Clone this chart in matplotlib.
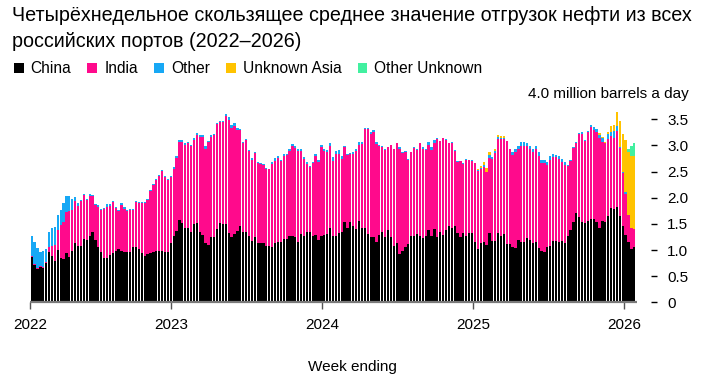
import matplotlib
matplotlib.use("Agg")
import matplotlib.pyplot as plt
from matplotlib.patches import Rectangle
import numpy as np
import pandas as pd

plt.rcParams['font.family'] = ['Liberation Sans', 'DejaVu Sans']

# ---------------- data (million barrels a day, 4-week average) ----------------
china = [
    .87, .71, .64, .68, .66, .75, .97, .89, .79, 1.00,
    .84, .82, .94, .86, .98, 1.13, 1.08, 1.08, 1.21, 1.19,
    1.27, 1.35, 1.20, 1.05, .97, .84, .84, .91, .95, .99,
    1.01, .98, .96, .96, .96, 1.06, 1.06, 1.02, .95, .89,
    .92, .94, .97, .99, .99, .99, .97, .97, 1.13, 1.26,
    1.36, 1.57, 1.51, 1.43, 1.43, 1.35, 1.50, 1.52, 1.34, 1.29,
    1.13, 1.10, 1.24, 1.24, 1.40, 1.51, 1.50, 1.50, 1.33, 1.24,
    1.31, 1.36, 1.46, 1.35, 1.35, 1.26, 1.18, 1.24, 1.14, 1.13,
    1.13, 1.08, 1.08, 1.05, 1.13, 1.16, 1.15, 1.21, 1.21, 1.26,
    1.27, 1.24, 1.16, 1.30, 1.26, 1.34, 1.34, 1.26, 1.29, 1.19,
    1.26, 1.29, 1.31, 1.43, 1.26, 1.27, 1.32, 1.34, 1.54, 1.43,
    1.53, 1.45, 1.40, 1.56, 1.43, 1.43, 1.30, 1.24, 1.24, 1.16,
    1.29, 1.34, 1.24, 1.38, 1.24, 1.08, 1.13, .92, .98, 1.05,
    1.12, 1.26, 1.26, 1.31, 1.27, 1.22, 1.27, 1.38, 1.27, 1.40,
    1.24, 1.35, 1.29, 1.38, 1.45, 1.43, 1.45, 1.32, 1.24, 1.32,
    1.26, 1.32, 1.32, 1.16, 1.02, 1.13, 1.15, 1.10, 1.33, 1.18,
    1.17, 1.32, 1.27, 1.31, 1.11, 1.11, 1.06, 1.03, 1.19, 1.15,
    1.15, 1.22, 1.19, 1.13, 1.16, 1.03, .98, .96, 1.05, 1.08,
    1.18, 1.18, 1.16, 1.18, 1.13, 1.27, 1.38, 1.54, 1.71, 1.64,
    1.54, 1.52, 1.56, 1.59, 1.59, 1.54, 1.43, 1.56, 1.53, 1.65,
    1.80, 1.78, 1.82, 1.65, 1.45, 1.29, 1.15, 1.02, 1.06,
]
india = [
    .02, .02, .02, .02, .02, .03, .09, .19, .31, .38,
    .64, .71, .79, .88, .79, .80, .76, .86, .84, .77,
    .77, .68, .66, .78, .79, .94, .99, .93, .97, .81,
    .74, .88, .82, .78, .80, .71, .85, .88, .94, 1.00,
    1.03, 1.18, 1.27, 1.34, 1.42, 1.52, 1.42, 1.37, 1.26, 1.29,
    1.40, 1.50, 1.56, 1.58, 1.62, 1.63, 1.60, 1.68, 1.83, 1.88,
    1.81, 1.97, 1.93, 1.96, 2.00, 1.94, 1.95, 2.07, 2.16, 2.10,
    2.07, 1.94, 1.83, 1.70, 1.75, 1.63, 1.55, 1.61, 1.53, 1.52,
    1.49, 1.47, 1.46, 1.60, 1.58, 1.60, 1.55, 1.59, 1.60, 1.63,
    1.71, 1.71, 1.73, 1.60, 1.48, 1.31, 1.24, 1.40, 1.51, 1.50,
    1.70, 1.61, 1.56, 1.56, 1.44, 1.56, 1.52, 1.40, 1.42, 1.39,
    1.30, 1.38, 1.49, 1.45, 1.59, 1.88, 2.02, 1.98, 2.01, 1.87,
    1.70, 1.63, 1.68, 1.58, 1.76, 1.85, 1.91, 2.02, 1.87, 1.82,
    1.61, 1.61, 1.69, 1.61, 1.77, 1.72, 1.65, 1.63, 1.65, 1.65,
    1.89, 1.73, 1.85, 1.73, 1.59, 1.62, 1.45, 1.37, 1.46, 1.33,
    1.47, 1.40, 1.39, 1.50, 1.50, 1.41, 1.43, 1.39, 1.43, 1.56,
    1.68, 1.80, 1.86, 1.82, 1.97, 1.82, 1.76, 1.85, 1.74, 1.83,
    1.84, 1.76, 1.74, 1.74, 1.77, 1.77, 1.69, 1.70, 1.58, 1.64,
    1.60, 1.59, 1.58, 1.51, 1.50, 1.34, 1.32, 1.41, 1.34, 1.58,
    1.68, 1.56, 1.69, 1.76, 1.70, 1.71, 1.71, 1.50, 1.51, 1.47,
    1.38, 1.37, 1.45, 1.30, 1.02, .79, .52, .41, .35,
]
other = [
    .37, .43, .37, .27, .31, .24, .28, .34, .34, .29,
    .29, .36, .31, .30, .21, .08, .05, .02, .02, .02,
    .03, .02, .02, .03, .03, .02, .05, .03, .02, .03,
    .02, .03, .04, .03, .03, .02, .02, .01, .02, .02,
    .03, .03, .02, .03, .03, .02, .03, .02, .03, .03,
    .03, .03, .03, .03, .02, .03, .04, .03, .03, .03,
    .04, .02, .03, .02, .02, .02, .02, .03, .06, .05,
    .05, .03, .02, .02, .02, .02, .02, .02, .02, .02,
    .02, .01, .01, .03, .04, .04, .03, .04, .03, .04,
    .05, .04, .04, .03, .03, .03, .03, .02, .04, .04,
    .05, .04, .04, .05, .07, .06, .07, .06, .03, .02,
    .03, .05, .05, .06, .05, .02, .02, .04, .04, .04,
    .02, .02, .01, .01, .01, .01, .01, .02, .02, .02,
    .01, .01, .01, .01, .01, .02, .02, .05, .04, .05,
    .02, .01, .01, .01, .01, .01, .01, .01, .01, .01,
    .01, .01, .01, .01, .01, .03, .05, .01, .06, .04,
    .04, .04, .01, .01, .01, .01, .05, .06, .05, .09,
    .08, .07, .06, .06, .06, .07, .06, .06, .05, .07,
    .06, .05, .05, .05, .05, .02, .03, .01, .01, .01,
    .03, .02, .03, .04, .07, .06, .06, .09, .00, .10,
    .08, .12, .10, .02, .03, .03, .00, .00, .00,
]
unknown_asia = [
    0, 0, 0, 0, 0, 0, 0, 0, 0, 0,
    0, 0, 0, 0, 0, 0, 0, 0, 0, 0,
    0, 0, 0, 0, 0, 0, 0, 0, 0, 0,
    0, 0, 0, 0, 0, 0, 0, 0, 0, 0,
    0, 0, 0, 0, 0, 0, 0, 0, 0, 0,
    0, 0, 0, 0, 0, 0, 0, 0, 0, 0,
    0, 0, 0, 0, 0, 0, 0, 0, 0, 0,
    0, 0, 0, 0, 0, 0, 0, 0, 0, 0,
    0, 0, 0, 0, 0, 0, 0, 0, 0, 0,
    0, 0, 0, 0, 0, 0, 0, 0, 0, 0,
    0, 0, 0, 0, 0, 0, 0, 0, 0, 0,
    0, 0, 0, 0, 0, 0, 0, 0, 0, 0,
    0, 0, 0, 0, 0, 0, 0, 0, 0, 0,
    0, 0, 0, 0, 0, 0, 0, 0, 0, 0,
    0, 0, 0, 0, 0, 0, 0, 0, 0, 0,
    0, 0, 0, 0, .02, .04, .06, .06, .05, 0,
    .04, .04, .04, .04, 0, 0, 0, 0, 0, 0,
    0, 0, 0, 0, 0, 0, 0, 0, 0, 0,
    0, 0, 0, 0, 0, 0, 0, 0, 0, 0,
    0, 0, 0, 0, 0, 0, .03, .02, .03, .03,
    .11, .12, .26, .50, .71, .99, 1.20, 1.36, 1.38,
]
other_unknown = [
    0, 0, 0, 0, 0, 0, 0, 0, 0, 0,
    0, 0, 0, 0, 0, 0, 0, 0, 0, 0,
    0, 0, 0, 0, 0, 0, 0, 0, 0, 0,
    0, 0, 0, 0, 0, 0, 0, 0, 0, 0,
    0, 0, 0, 0, 0, 0, 0, 0, 0, 0,
    0, 0, 0, 0, 0, 0, 0, 0, 0, 0,
    0, 0, 0, 0, 0, 0, 0, 0, 0, 0,
    0, 0, 0, 0, 0, 0, 0, 0, 0, 0,
    0, 0, 0, 0, 0, 0, 0, 0, 0, 0,
    0, 0, 0, 0, 0, 0, 0, 0, 0, 0,
    0, 0, 0, 0, 0, 0, 0, 0, 0, 0,
    0, 0, 0, 0, 0, 0, 0, 0, 0, 0,
    0, 0, 0, 0, 0, 0, 0, 0, 0, 0,
    0, 0, 0, 0, 0, 0, 0, 0, 0, 0,
    0, 0, 0, 0, 0, 0, 0, 0, 0, 0,
    0, 0, 0, 0, 0, 0, 0, 0, 0, 0,
    0, 0, 0, 0, 0, 0, 0, 0, 0, 0,
    0, 0, 0, 0, 0, 0, 0, 0, 0, 0,
    0, 0, 0, 0, 0, 0, 0, 0, 0, 0,
    0, 0, 0, 0, 0, 0, 0, 0, 0, 0,
    0, 0, 0, 0, 0, 0, .06, .19, .26,
]

series_names = ['China', 'India', 'Other', 'Unknown Asia', 'Other Unknown']
series_colors = ['#000000', '#ff0a8c', '#17a8f5', '#ffc300', '#42f0a0']
year_labels = ['2022', '2023', '2024', '2025', '2026']
y_ticks = [0, 0.5, 1.0, 1.5, 2.0, 2.5, 3.0, 3.5]
y_tick_labels = ['0', '0.5', '1.0', '1.5', '2.0', '2.5', '3.0', '3.5']
unit_label = '4.0 million barrels a day'
title_lines = ['Четырёхнедельное скользящее среднее значение отгрузок нефти из всех',
               'российских портов (2022–2026)']
x_title = 'Week ending'

week_ending = pd.date_range('2022-01-30', periods=len(china), freq='W-SUN')

# ---------------- figure ----------------
W, H = 703, 385
fig = plt.figure(figsize=(W / 100, H / 100), dpi=100)


def fx(px):
    return px / W


def fy(py):
    return 1 - py / H


px_per_week = 2.897
bar0_px = 31.7
ax_left_px, ax_right_px = 30.2, 657.0
ax_top_px, ax_bot_px = 93.1, 302.3
base_end_px = 637.4

ax = fig.add_axes([fx(ax_left_px), fy(ax_bot_px),
                   (ax_right_px - ax_left_px) / W, (ax_bot_px - ax_top_px) / H])
x = np.arange(len(china))
xmin = (ax_left_px - bar0_px) / px_per_week
xmax = (ax_right_px - bar0_px) / px_per_week
ax.set_xlim(xmin, xmax)
ax.set_ylim(0, 4)

bottom = np.zeros(len(china))
for vals, col in zip([china, india, other, unknown_asia, other_unknown], series_colors):
    v = np.array(vals, dtype=float)
    ax.bar(x, v, bottom=bottom, width=0.78, color=col, linewidth=0)
    bottom += v

for s in ax.spines.values():
    s.set_visible(False)
ax.plot([xmin, (base_end_px - bar0_px) / px_per_week], [0, 0], color='#7a7a7a',
        lw=1.6, solid_capstyle='butt', clip_on=False, zorder=5)

# x ticks: first label at the start of the data, then each new year
xt = [xmin] + [(pd.Timestamp(f'{y}-01-01') - week_ending[0]).days / 7 for y in year_labels[1:]]
ax.set_xticks(xt)
ax.set_xticklabels(year_labels)
ax.tick_params(axis='x', length=5, width=1, color='#555555', pad=6.5,
               labelsize=11, labelcolor='black')

ax.yaxis.tick_right()
ax.set_yticks(y_ticks)
ax.set_yticklabels(y_tick_labels)
ax.tick_params(axis='y', direction='in', length=4.3, width=1, color='black',
               pad=7.2, labelsize=11, labelcolor='black')

fig.text(fx(688.3), fy(98.5), unit_label, ha='right', va='baseline', fontsize=11)
fig.text(fx(12), fy(20.7), title_lines[0], ha='left', va='baseline', fontsize=14.2)
fig.text(fx(12), fy(46.7), title_lines[1], ha='left', va='baseline', fontsize=14.2)
fig.text(fx(352), fy(371), x_title, ha='center', va='baseline', fontsize=11)

# legend
renderer = fig.canvas.get_renderer()
cur = 13.5
sq = 10
for name, col in zip(series_names, series_colors):
    fig.patches.append(Rectangle((fx(cur), fy(72.5)), sq / W, sq / H,
                                 transform=fig.transFigure, facecolor=col,
                                 edgecolor='none', figure=fig))
    t = fig.text(fx(cur + sq + 7), fy(72.7), name, ha='left', va='baseline', fontsize=11.2)
    wpx = t.get_window_extent(renderer).width
    cur = cur + sq + 7 + wpx + 16

fig.savefig('out.png', dpi=100)
